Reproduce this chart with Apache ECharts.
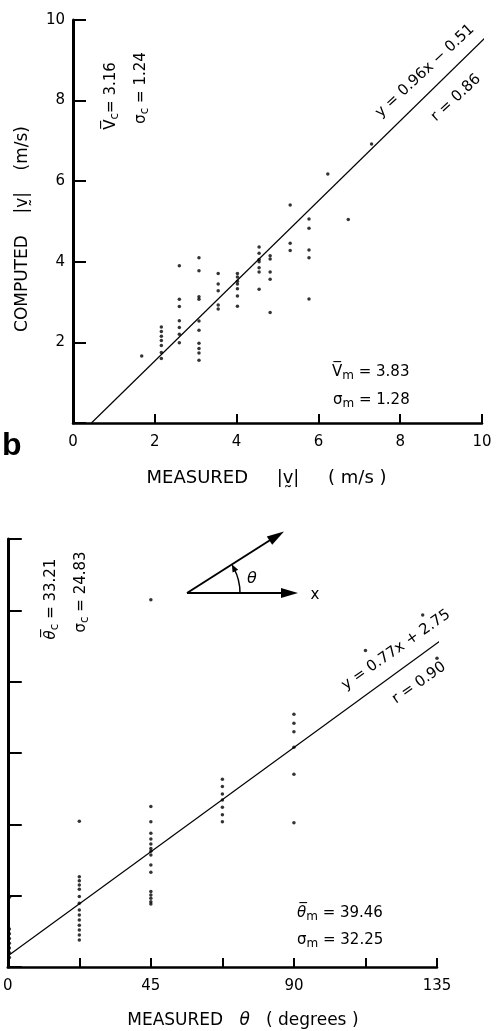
<!DOCTYPE html>
<html><head><meta charset="utf-8">
<script src="https://cdn.jsdelivr.net/npm/echarts@6/dist/echarts.min.js"></script>
<style>html,body{margin:0;padding:0;background:#fff}#c{width:497px;height:1031px}</style>
</head><body><div id="c"></div>
<script>
// ---- Panel (a): wind speed ----
const speedMeasuredCols = [1.68, 2.16, 2.6, 3.08, 3.55, 4.02, 4.55, 4.82, 5.31, 5.77, 6.23, 6.73, 7.30];
const speedComputedCols = [
  [1.66],
  [2.38, 2.27, 2.15, 2.05, 1.92, 1.75, 1.6],
  [3.9, 3.07, 2.89, 2.54, 2.37, 2.2, 1.99],
  [4.1, 3.78, 3.13, 3.07, 2.53, 2.3, 1.98, 1.85, 1.74, 1.56],
  [3.71, 3.45, 3.28, 2.93, 2.83],
  [3.71, 3.62, 3.52, 3.45, 3.33, 3.15, 2.9],
  [4.37, 4.21, 4.06, 4.0, 3.85, 3.75, 3.32],
  [4.15, 4.07, 3.75, 3.57, 2.74],
  [5.41, 4.46, 4.28],
  [5.06, 4.83, 4.29, 4.10, 3.08],
  [6.18],
  [5.05],
  [6.92]
];
const speedFitLine = [[0.45, 0], [10.37, 9.85]];

// ---- Panel (b): wind direction ----
const dirMeasuredCols = [0.5, 22.5, 45, 67.5, 90, 112.5, 130.5, 135];
const dirComputedCols = [
  [22, 12, 10.5, 9, 7.5, 6, 4.5, 3],
  [46, 28.5, 27.2, 25.9, 24.5, 22.2, 20.1, 18, 16.4, 14.8, 13.2, 11.7, 10.1, 8.5],
  [115.8, 50.6, 45.8, 42.2, 40.4, 38.8, 37.4, 36.5, 35.3, 32.2, 29.9, 23.8, 22.7, 21.7, 20.6, 19.9],
  [59.2, 56.9, 54.6, 52.7, 50.4, 48.0, 45.8],
  [79.7, 76.9, 74.2, 69.3, 60.8, 45.5],
  [99.8],
  [111],
  [97.4]
];
const dirFitLine = [[0, 3.5], [154, 116]];
const dirLabeledTicks = [0, 45, 90, 135];

function flatten(xs, ys) {
  const out = [];
  xs.forEach((x, i) => ys[i].forEach(y => out.push([x, y])));
  return out;
}

const F = '"DejaVu Sans", sans-serif';
const rich = {
  m: { fontSize: 15, fontFamily: F, fill: '#000', lineHeight: 20, verticalAlign: 'middle' },
  o: { fontSize: 15, fontFamily: F, fill: '#000', lineHeight: 20, verticalAlign: 'middle' },
  oi: { fontSize: 15, fontFamily: F, fontStyle: 'italic', fill: '#000', lineHeight: 20, verticalAlign: 'middle' },
  s: { fontSize: 12, fontFamily: F, fill: '#000', lineHeight: 10, verticalAlign: 'bottom' }
};
function ann(x, y, rotDeg, text, align) {
  return { type: 'text', x: x, y: y, rotation: rotDeg * Math.PI / 180, z: 10,
    style: { text: text, rich: rich, align: align || 'center', verticalAlign: 'middle', fill: '#000', font: '15px ' + F } };
}

const tickStyle = { color: '#000', width: 2 };
const chart = echarts.init(document.getElementById('c'), null, { renderer: 'canvas' });
chart.setOption({
  animation: false,
  backgroundColor: '#fff',
  grid: [
    { left: 73, top: 20, width: 409, height: 403 },
    { left: 6, top: 539, width: 431, height: 428 }
  ],
  xAxis: [
    { gridIndex: 0, type: 'value', min: 0, max: 10, interval: 2,
      axisLine: { lineStyle: { color: '#000', width: 2.5 } },
      axisTick: { inside: true, length: 9, lineStyle: tickStyle },
      splitLine: { show: false },
      axisLabel: { color: '#000', fontFamily: F, fontSize: 15, margin: 12 },
      name: 'MEASURED     |v\u0330|     ( m/s )', nameLocation: 'middle', nameGap: 46,
      nameTextStyle: { color: '#000', fontFamily: F, fontSize: 18, padding: [0, 22, 0, 0] } },
    { gridIndex: 1, type: 'value', min: 0, max: 135, interval: 22.5,
      axisLine: { lineStyle: { color: '#000', width: 2.5 } },
      axisTick: { inside: true, length: 9, lineStyle: tickStyle },
      splitLine: { show: false },
      axisLabel: { color: '#000', fontFamily: F, fontSize: 15, margin: 12,
        formatter: v => dirLabeledTicks.indexOf(Math.round(v * 10) / 10) >= 0 ? String(v) : '' },
      name: 'MEASURED   {i|θ}   ( degrees )', nameLocation: 'middle', nameGap: 45,
      nameTextStyle: { color: '#000', fontFamily: F, fontSize: 17, padding: [0, 0, 0, 41],
        rich: { i: { fontFamily: F, fontSize: 17, fontStyle: 'italic', color: '#000' } } } }
  ],
  yAxis: [
    { gridIndex: 0, type: 'value', min: 0, max: 10, interval: 2,
      axisLine: { lineStyle: { color: '#000', width: 3 } },
      axisTick: { inside: true, length: 13, lineStyle: tickStyle },
      splitLine: { show: false },
      axisLabel: { color: '#000', fontFamily: F, fontSize: 15, margin: 8, formatter: v => v === 0 ? '' : String(v) },
      name: 'COMPUTED    |v\u0330|    (m/s)', nameLocation: 'middle', nameGap: 42,
      nameTextStyle: { color: '#000', fontFamily: F, fontSize: 17, padding: [0, 15, 0, 0] } },
    { gridIndex: 1, type: 'value', min: 0, max: 135, interval: 22.5,
      axisLine: { lineStyle: { color: '#000', width: 3 } },
      axisTick: { inside: true, length: 14, lineStyle: tickStyle },
      splitLine: { show: false },
      axisLabel: { show: false } }
  ],
  series: [
    { type: 'scatter', xAxisIndex: 0, yAxisIndex: 0, data: flatten(speedMeasuredCols, speedComputedCols),
      symbolSize: 3.5, itemStyle: { color: '#000' } },
    { type: 'line', xAxisIndex: 0, yAxisIndex: 0, data: speedFitLine, symbol: 'none', clip: false,
      lineStyle: { color: '#000', width: 1.2 } },
    { type: 'scatter', xAxisIndex: 1, yAxisIndex: 1, data: flatten(dirMeasuredCols, dirComputedCols),
      symbolSize: 3.5, itemStyle: { color: '#000' }, clip: false },
    { type: 'line', xAxisIndex: 1, yAxisIndex: 1, data: dirFitLine, symbol: 'none', clip: false,
      lineStyle: { color: '#000', width: 1.2 } }
  ],
  graphic: { elements: [
    { type: 'text', x: 2, y: 446, style: { text: 'b', font: 'bold 32px "Liberation Sans", Arial, sans-serif', fill: '#000', align: 'left', verticalAlign: 'middle' } },
    // panel a annotations
    ann(111, 96, 90, '{o|V\u0305}{s|c}{m|= 3.16}'),
    ann(141, 88, 90, '{m|σ}{s|c}{m| = 1.24}'),
    ann(425, 71, 43, '{m|y = 0.96x − 0.51}'),
    ann(456, 98, 43, '{m|r = 0.86}'),
    ann(332, 372, 0, '{o|V\u0305}{s|m}{m| = 3.83}', 'left'),
    ann(333, 400, 0, '{m|σ}{s|m}{m| = 1.28}', 'left'),
    // panel b annotations
    ann(51, 599, 90, '{oi|θ\u0305}{s|c}{m| = 33.21}'),
    ann(81, 592, 90, '{m|σ}{s|c}{m| = 24.83}'),
    ann(396, 650, 35, '{m|y = 0.77x + 2.75}'),
    ann(419, 683, 35, '{m|r = 0.90}'),
    ann(297, 913, 0, '{oi|θ\u0305}{s|m}{m| = 39.46}', 'left'),
    ann(297, 940, 0, '{m|σ}{s|m}{m| = 32.25}', 'left'),
    // inset vector diagram
    { type: 'line', shape: { x1: 187, y1: 593, x2: 288, y2: 593 }, style: { stroke: '#000', lineWidth: 2 } },
    { type: 'polygon', shape: { points: [[298, 593], [281, 588], [281, 598]] }, style: { fill: '#000' } },
    { type: 'line', shape: { x1: 187, y1: 593, x2: 275, y2: 537 }, style: { stroke: '#000', lineWidth: 2 } },
    { type: 'polygon', shape: { points: [[284, 531.5], [272.2, 544.8], [266.8, 536.4]] }, style: { fill: '#000' } },
    { type: 'arc', shape: { cx: 187, cy: 593, r: 53, startAngle: 0, endAngle: -0.48, clockwise: false },
      style: { stroke: '#000', lineWidth: 1.5, fill: null } },
    { type: 'polygon', shape: { points: [[231.8, 564.2], [238.2, 569.8], [232.6, 572.4]] }, style: { fill: '#000' } },
    { type: 'text', x: 252, y: 579, style: { text: 'θ', font: 'italic 16px ' + F, fill: '#000', align: 'center', verticalAlign: 'middle' } },
    { type: 'text', x: 315, y: 595, style: { text: 'x', font: '15px ' + F, fill: '#000', align: 'center', verticalAlign: 'middle' } }
  ] }
});
</script>
</body></html>
